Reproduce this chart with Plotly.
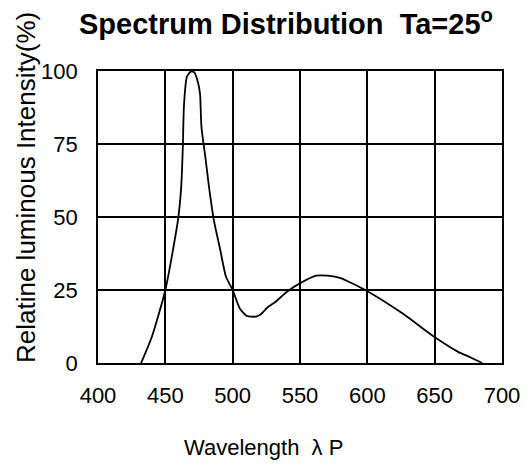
import plotly.graph_objects as go

wavelength = [432, 440, 450, 459.4, 461.8, 463, 463.8, 466, 469, 471.5, 474.4, 475.8, 476.8,
              480, 482.4, 486, 490.8, 495, 500, 505.3, 510.6, 517.4, 521, 525.8, 531.9,
              540.3, 551.2, 562, 570.5, 580.2, 588.6, 600.7, 626, 650.2, 667.1, 676.8, 685.3]
intensity = [0, 9, 25, 49, 60.4, 74, 87.9, 98, 99.8, 99.5, 95.8, 92, 81,
             69.5, 60.4, 49, 38.7, 29.6, 25, 18.7, 16.1, 15.9, 16.7, 19, 21,
             24.4, 27.6, 29.9, 29.9, 29.1, 27.3, 24.4, 17, 8.8, 3.9, 1.9, 0]

x_ticks = [400, 450, 500, 550, 600, 650, 700]
y_ticks = [0, 25, 50, 75, 100]

title_text = "<b>Spectrum Distribution&nbsp;&nbsp;Ta=25<sup>o</sup></b>"
y_title = "Relatine luminous Intensity(%)"
x_title = "Wavelength&nbsp;&nbsp;λ P"

FONT = "Liberation Sans, Arial, sans-serif"

fig = go.Figure()
fig.add_trace(go.Scatter(x=wavelength, y=intensity, mode="lines",
                         line=dict(color="black", width=1.8, shape="spline", smoothing=0.6),
                         hoverinfo="skip", showlegend=False))

axis_common = dict(showgrid=True, gridcolor="black", gridwidth=1.6, showline=True,
                   linecolor="black", linewidth=1.6, mirror=True, zeroline=False,
                   ticks="", tickfont=dict(family=FONT, size=22, color="black"))

fig.update_xaxes(range=[400, 700], tickvals=x_ticks, ticklabelstandoff=12, **axis_common)
fig.update_yaxes(range=[0, 100], tickvals=y_ticks, ticklabelstandoff=14, **axis_common)

fig.update_layout(
    width=532, height=469,
    margin=dict(l=98, r=20, t=71, b=106),
    paper_bgcolor="white", plot_bgcolor="white",
    font=dict(family=FONT, color="black"),
    annotations=[
        dict(text=title_text, xref="paper", yref="paper", x=(291 - 98) / 414, y=1.0, yshift=49,
             showarrow=False, xanchor="center", yanchor="middle",
             font=dict(family=FONT, size=29, color="black")),
        dict(text=y_title, xref="paper", yref="paper", x=0, xshift=-72, y=(363 - 188) / 292,
             textangle=-90, showarrow=False, xanchor="center", yanchor="middle",
             font=dict(family=FONT, size=26, color="black")),
        dict(text=x_title, xref="paper", yref="paper", x=(268 - 98) / 414, y=0, yshift=-84,
             showarrow=False, xanchor="center", yanchor="middle",
             font=dict(family=FONT, size=22, color="black")),
    ],
)

fig.write_html("out.html")
